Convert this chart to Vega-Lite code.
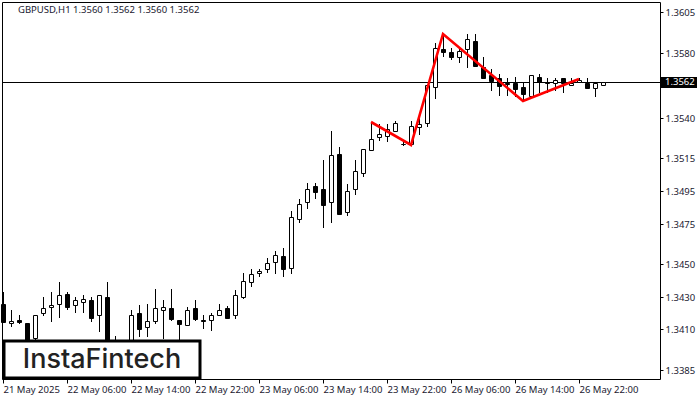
{
  "$schema": "https://vega.github.io/schema/vega-lite/v6.json",
  "description": "GBPUSD H1 candlesticks with a red head and shoulders outline",
  "width": 658,
  "height": 377,
  "autosize": {"type": "none"},
  "padding": {"left": 2, "top": 2, "right": 40, "bottom": 21},
  "background": "white",
  "datasets": {
    "candles": [
      {"n":0,"open":1.34256,"high":1.34329,"low":1.34145,"close":1.34145},
      {"n":1,"open":1.34139,"high":1.34219,"low":1.34114,"close":1.34151},
      {"n":2,"open":1.34157,"high":1.34188,"low":1.34133,"close":1.34145},
      {"n":3,"open":1.34139,"high":1.34139,"low":1.33985,"close":1.34004},
      {"n":4,"open":1.34047,"high":1.34188,"low":1.34028,"close":1.34188},
      {"n":5,"open":1.342,"high":1.34299,"low":1.34182,"close":1.34231},
      {"n":6,"open":1.34237,"high":1.34329,"low":1.34145,"close":1.34249},
      {"n":7,"open":1.34256,"high":1.34391,"low":1.3417,"close":1.34311},
      {"n":8,"open":1.34317,"high":1.34329,"low":1.34219,"close":1.34237},
      {"n":9,"open":1.34249,"high":1.34299,"low":1.342,"close":1.3428},
      {"n":10,"open":1.34268,"high":1.34311,"low":1.342,"close":1.34286},
      {"n":11,"open":1.3428,"high":1.34299,"low":1.34145,"close":1.3417},
      {"n":12,"open":1.34188,"high":1.34311,"low":1.34084,"close":1.34311},
      {"n":13,"open":1.34299,"high":1.34391,"low":1.33942,"close":1.33973},
      {"n":14,"open":1.34004,"high":1.34059,"low":1.33973,"close":1.34022},
      {"n":15,"open":1.33961,"high":1.34022,"low":1.33942,"close":1.34004},
      {"n":16,"open":1.34022,"high":1.34219,"low":1.34004,"close":1.34188},
      {"n":17,"open":1.342,"high":1.34249,"low":1.34053,"close":1.34102},
      {"n":18,"open":1.34114,"high":1.34256,"low":1.34053,"close":1.34151},
      {"n":19,"open":1.34151,"high":1.34348,"low":1.34133,"close":1.34231},
      {"n":20,"open":1.34219,"high":1.3428,"low":1.34041,"close":1.34237},
      {"n":21,"open":1.34231,"high":1.34348,"low":1.34151,"close":1.34163},
      {"n":22,"open":1.34157,"high":1.34157,"low":1.34034,"close":1.34133},
      {"n":23,"open":1.34127,"high":1.34237,"low":1.34127,"close":1.34219},
      {"n":24,"open":1.34231,"high":1.3428,"low":1.34151,"close":1.34163},
      {"n":25,"open":1.34157,"high":1.34188,"low":1.34102,"close":1.34151},
      {"n":26,"open":1.34157,"high":1.342,"low":1.3409,"close":1.34188},
      {"n":27,"open":1.34188,"high":1.34256,"low":1.34182,"close":1.34219},
      {"n":28,"open":1.34231,"high":1.34243,"low":1.3417,"close":1.3417},
      {"n":29,"open":1.34188,"high":1.34342,"low":1.34163,"close":1.34311},
      {"n":30,"open":1.34299,"high":1.34446,"low":1.34286,"close":1.34397},
      {"n":31,"open":1.34391,"high":1.34471,"low":1.3436,"close":1.3444},
      {"n":32,"open":1.34446,"high":1.34471,"low":1.34422,"close":1.34458},
      {"n":33,"open":1.34471,"high":1.34538,"low":1.34446,"close":1.34508},
      {"n":34,"open":1.34514,"high":1.34581,"low":1.3444,"close":1.34557},
      {"n":35,"open":1.34551,"high":1.346,"low":1.34422,"close":1.34471},
      {"n":36,"open":1.34477,"high":1.34827,"low":1.3444,"close":1.3479},
      {"n":37,"open":1.34778,"high":1.34901,"low":1.34753,"close":1.3487},
      {"n":38,"open":1.34883,"high":1.34999,"low":1.34839,"close":1.34962},
      {"n":39,"open":1.34981,"high":1.34999,"low":1.34901,"close":1.34944},
      {"n":40,"open":1.34962,"high":1.35141,"low":1.34723,"close":1.34864},
      {"n":41,"open":1.34883,"high":1.35319,"low":1.34753,"close":1.35171},
      {"n":42,"open":1.35178,"high":1.35221,"low":1.34809,"close":1.34809},
      {"n":43,"open":1.34821,"high":1.34993,"low":1.34796,"close":1.3495},
      {"n":44,"open":1.34962,"high":1.35141,"low":1.34926,"close":1.35073},
      {"n":45,"open":1.35061,"high":1.35208,"low":1.35036,"close":1.35208},
      {"n":46,"open":1.35202,"high":1.35374,"low":1.35202,"close":1.3527},
      {"n":47,"open":1.35282,"high":1.35362,"low":1.35257,"close":1.353},
      {"n":48,"open":1.35288,"high":1.35362,"low":1.35251,"close":1.35331},
      {"n":49,"open":1.35319,"high":1.3538,"low":1.35319,"close":1.35368},
      {"n":50,"open":1.35239,"high":1.35251,"low":1.35227,"close":1.35239},
      {"n":51,"open":1.35239,"high":1.3538,"low":1.35239,"close":1.3535},
      {"n":52,"open":1.35343,"high":1.3543,"low":1.35294,"close":1.35362},
      {"n":53,"open":1.35368,"high":1.35602,"low":1.35343,"close":1.35602},
      {"n":54,"open":1.35589,"high":1.3586,"low":1.35516,"close":1.35829},
      {"n":55,"open":1.35823,"high":1.35915,"low":1.35774,"close":1.35804},
      {"n":56,"open":1.35804,"high":1.35829,"low":1.35755,"close":1.35774},
      {"n":57,"open":1.35774,"high":1.35829,"low":1.35737,"close":1.35811},
      {"n":58,"open":1.35823,"high":1.35915,"low":1.35706,"close":1.35884},
      {"n":59,"open":1.35872,"high":1.35915,"low":1.35718,"close":1.35718},
      {"n":60,"open":1.35712,"high":1.35774,"low":1.35645,"close":1.35645},
      {"n":61,"open":1.35663,"high":1.357,"low":1.35565,"close":1.35626},
      {"n":62,"open":1.35645,"high":1.35669,"low":1.35534,"close":1.35595},
      {"n":63,"open":1.35614,"high":1.35645,"low":1.35534,"close":1.35608},
      {"n":64,"open":1.35614,"high":1.35651,"low":1.35528,"close":1.35577},
      {"n":65,"open":1.35589,"high":1.35614,"low":1.35509,"close":1.35546},
      {"n":66,"open":1.35534,"high":1.35663,"low":1.35522,"close":1.35663},
      {"n":67,"open":1.35651,"high":1.35669,"low":1.35552,"close":1.3562},
      {"n":68,"open":1.35614,"high":1.35645,"low":1.35552,"close":1.35614},
      {"n":69,"open":1.35614,"high":1.35645,"low":1.35565,"close":1.35632},
      {"n":70,"open":1.35645,"high":1.35645,"low":1.35552,"close":1.35614},
      {"n":71,"open":1.35602,"high":1.35645,"low":1.35602,"close":1.35614},
      {"n":72,"open":1.3562,"high":1.35645,"low":1.35614,"close":1.35632},
      {"n":73,"open":1.35614,"high":1.35645,"low":1.35577,"close":1.35583},
      {"n":74,"open":1.35583,"high":1.3562,"low":1.35528,"close":1.35614},
      {"n":75,"open":1.356,"high":1.3562,"low":1.356,"close":1.3562}
    ],
    "pattern": [
      {"n":46,"price":1.35374},
      {"n":51,"price":1.35233},
      {"n":55,"price":1.35915},
      {"n":65,"price":1.35503},
      {"n":72,"price":1.35638}
    ]
  },
  "layer": [
    {
      "data": {"values": [{"price": 1.3562}]},
      "mark": {"type": "rule", "color": "black", "strokeWidth": 1, "yOffset": 0.5, "y2Offset": 0.5},
      "encoding": {
        "y": {"field": "price", "type": "quantitative", "title": null, "axis": null, "scale": {"domain": [1.337944, 1.361115], "nice": false, "zero": false, "round": true}}
      }
    },
    {
      "data": {"name": "candles"},
      "mark": {"type": "rule", "color": "black", "strokeWidth": 1, "xOffset": 0.5, "x2Offset": 0.5},
      "encoding": {
        "x": {
          "field": "n", "type": "quantitative", "title": null,
          "scale": {"domain": [-0.125, 82.125], "nice": false, "zero": false, "round": true},
          "axis": {
            "values": [0, 8, 16, 24, 32, 40, 48, 56, 64, 72],
            "labelExpr": "{'0':'21 May 2025','8':'22 May 06:00','16':'22 May 14:00','24':'22 May 22:00','32':'23 May 06:00','40':'23 May 14:00','48':'23 May 22:00','56':'26 May 06:00','64':'26 May 14:00','72':'26 May 22:00'}[datum.value]",
            "labelAlign": "left", "labelBound": false, "labelFlush": false, "labelOverlap": false,
            "grid": false, "domain": false, "tickColor": "black", "tickSize": 4, "labelPadding": 1,
            "labelFont": "Noto Sans", "labelFontSize": 9.5, "labelColor": "#1a2030"
          }
        },
        "y": {
          "field": "low", "type": "quantitative", "title": null,
          "scale": {"domain": [1.337944, 1.361115], "nice": false, "zero": false, "round": true},
          "axis": {
            "orient": "right",
            "values": [1.3605, 1.358, 1.354, 1.3515, 1.3495, 1.3475, 1.345, 1.343, 1.341, 1.3385],
            "format": ".4f", "grid": false, "domain": false, "tickColor": "black", "tickSize": 3, "labelPadding": 2,
            "labelBound": false, "labelFlush": false, "labelOverlap": false,
            "labelFont": "Noto Sans", "labelFontSize": 9.5, "labelColor": "#1a2030"
          }
        },
        "y2": {"field": "high"}
      }
    },
    {
      "data": {"name": "candles"},
      "mark": {"type": "bar", "size": 4, "stroke": "black", "strokeWidth": 1, "xOffset": 0.5, "x2Offset": 0.5, "yOffset": 0.5, "y2Offset": 0.5},
      "encoding": {
        "x": {"field": "n", "type": "quantitative", "title": null, "axis": null, "scale": {"domain": [-0.125, 82.125], "nice": false, "zero": false, "round": true}},
        "y": {"field": "open", "type": "quantitative", "title": null, "axis": null, "scale": {"domain": [1.337944, 1.361115], "nice": false, "zero": false, "round": true}},
        "y2": {"field": "close"},
        "fill": {"condition": {"test": "datum.close >= datum.open", "value": "white"}, "value": "black"}
      }
    },
    {
      "data": {"name": "pattern"},
      "mark": {"type": "line", "color": "#ff0000", "strokeWidth": 2.6},
      "encoding": {
        "x": {"field": "n", "type": "quantitative", "title": null, "axis": null, "scale": {"domain": [-0.125, 82.125], "nice": false, "zero": false, "round": true}},
        "y": {"field": "price", "type": "quantitative", "title": null, "axis": null, "scale": {"domain": [1.337944, 1.361115], "nice": false, "zero": false, "round": true}}
      }
    },
    {
      "data": {"values": [{"label": "GBPUSD,H1  1.3560 1.3562 1.3560 1.3562"}]},
      "mark": {"type": "text", "align": "left", "baseline": "middle", "font": "Noto Sans", "fontSize": 9.5, "color": "#1a2030"},
      "encoding": {
        "x": {"datum": 1.9, "type": "quantitative", "title": null, "axis": null, "scale": {"domain": [-0.125, 82.125], "nice": false, "zero": false, "round": true}},
        "y": {"datum": 1.36063, "type": "quantitative", "title": null, "axis": null, "scale": {"domain": [1.337944, 1.361115], "nice": false, "zero": false, "round": true}},
        "text": {"field": "label"}
      }
    },
    {
      "data": {"values": [{"label": "tag"}]},
      "mark": {"type": "rect", "color": "black"},
      "encoding": {
        "x": {"datum": 82.25, "type": "quantitative", "title": null, "axis": null, "scale": {"domain": [-0.125, 82.125], "nice": false, "zero": false, "round": true}},
        "x2": {"datum": 86.75},
        "y": {"datum": 1.35651, "type": "quantitative", "title": null, "axis": null, "scale": {"domain": [1.337944, 1.361115], "nice": false, "zero": false, "round": true}},
        "y2": {"datum": 1.35586}
      }
    },
    {
      "data": {"values": [{"label": "1.3562"}]},
      "mark": {"type": "text", "align": "left", "baseline": "middle", "font": "Noto Sans", "fontSize": 9.5, "color": "white"},
      "encoding": {
        "x": {"datum": 82.75, "type": "quantitative", "title": null, "axis": null, "scale": {"domain": [-0.125, 82.125], "nice": false, "zero": false, "round": true}},
        "y": {"datum": 1.3562, "type": "quantitative", "title": null, "axis": null, "scale": {"domain": [1.337944, 1.361115], "nice": false, "zero": false, "round": true}},
        "text": {"field": "label"}
      }
    },
    {
      "data": {"values": [{"label": "logo"}]},
      "mark": {"type": "rect", "fill": "white", "stroke": "black", "strokeWidth": 3},
      "encoding": {
        "x": {"datum": 0.125, "type": "quantitative", "title": null, "axis": null, "scale": {"domain": [-0.125, 82.125], "nice": false, "zero": false, "round": true}},
        "x2": {"datum": 24.6},
        "y": {"datum": 1.34028, "type": "quantitative", "title": null, "axis": null, "scale": {"domain": [1.337944, 1.361115], "nice": false, "zero": false, "round": true}},
        "y2": {"datum": 1.338}
      }
    },
    {
      "data": {"values": [{"label": "InstaFintech"}]},
      "mark": {"type": "text", "align": "center", "baseline": "middle", "font": "Inter", "fontSize": 27, "fontWeight": 500, "color": "#222222"},
      "encoding": {
        "x": {"datum": 12.4, "type": "quantitative", "title": null, "axis": null, "scale": {"domain": [-0.125, 82.125], "nice": false, "zero": false, "round": true}},
        "y": {"datum": 1.33911, "type": "quantitative", "title": null, "axis": null, "scale": {"domain": [1.337944, 1.361115], "nice": false, "zero": false, "round": true}},
        "text": {"field": "label"}
      }
    }
  ],
  "resolve": {"axis": {"x": "independent", "y": "independent"}},
  "config": {"view": {"stroke": "black", "strokeWidth": 1}, "scale": {"continuousPadding": 0}}
}
